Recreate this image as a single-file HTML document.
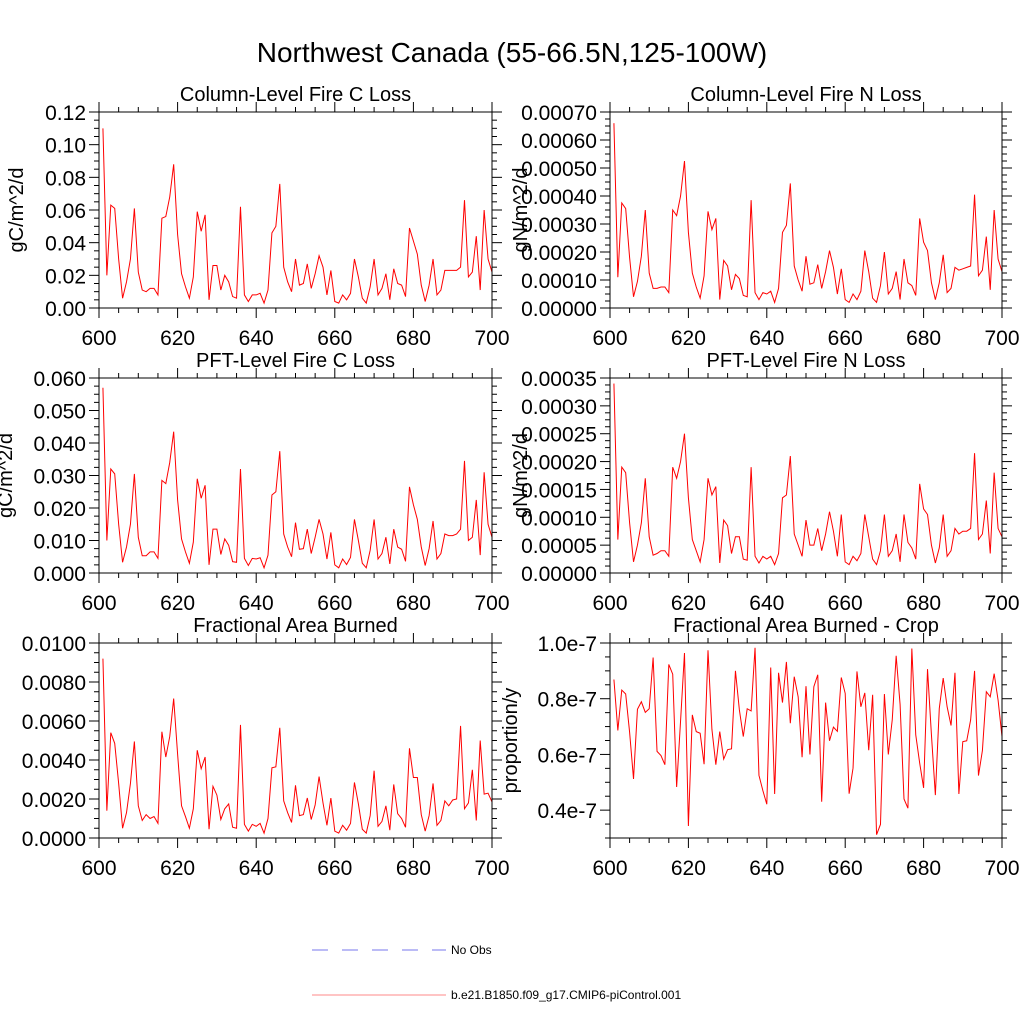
<!DOCTYPE html>
<html><head><meta charset="utf-8">
<style>
html,body{margin:0;padding:0;background:#fff;}
svg{display:block;font-family:"Liberation Sans",sans-serif;}
</style></head>
<body>
<svg id="fig" width="1024" height="1024" viewBox="0 0 1024 1024" xmlns="http://www.w3.org/2000/svg">
<rect x="0" y="0" width="1024" height="1024" fill="#fff"/>
<text x="512" y="62" font-size="28" text-anchor="middle">Northwest Canada (55-66.5N,125-100W)</text>
<g>
<line x1="312" y1="950" x2="446" y2="950" stroke="#7777ee" stroke-width="1" stroke-dasharray="16,14"/>
<text x="451" y="954" font-size="12">No Obs</text>
<line x1="312" y1="995" x2="446" y2="995" stroke="#ff8888" stroke-width="1"/>
<text x="451" y="999" font-size="12">b.e21.B1850.f09_g17.CMIP6-piControl.001</text>
</g>
</svg>
<script>
const years = [];
for (let i = 601; i <= 700; i++) years.push(i);
const xTicks = [600,620,640,660,680,700];

const colC = [0.110,0.020,0.063,0.061,0.030,0.006,0.016,0.030,0.061,0.022,
0.011,0.010,0.012,0.012,0.008,0.055,0.056,0.068,0.088,0.045,
0.021,0.013,0.006,0.019,0.059,0.047,0.057,0.005,0.026,0.026,
0.011,0.020,0.016,0.007,0.006,0.062,0.008,0.004,0.008,0.008,
0.009,0.003,0.011,0.046,0.050,0.076,0.025,0.016,0.010,0.030,
0.014,0.015,0.027,0.012,0.021,0.032,0.025,0.008,0.023,0.004,
0.003,0.008,0.005,0.009,0.030,0.019,0.006,0.003,0.013,0.030,
0.008,0.012,0.021,0.005,0.024,0.015,0.014,0.007,0.049,0.041,
0.033,0.014,0.004,0.014,0.030,0.008,0.011,0.023,0.023,0.023,
0.023,0.025,0.066,0.019,0.022,0.044,0.011,0.060,0.030,0.022];

const colN_e4 = [6.6,1.1,3.75,3.55,1.8,0.4,0.95,1.85,3.5,1.25,
0.7,0.7,0.75,0.75,0.55,3.5,3.3,4.0,5.25,2.7,
1.25,0.75,0.35,1.15,3.45,2.8,3.2,0.3,1.7,1.5,
0.65,1.2,1.05,0.45,0.4,3.85,0.55,0.3,0.55,0.5,
0.6,0.2,0.7,2.7,2.95,4.45,1.5,1.0,0.6,1.85,
0.85,0.9,1.55,0.7,1.3,2.05,1.45,0.5,1.4,0.3,
0.2,0.5,0.3,0.6,2.05,1.3,0.35,0.2,0.8,2.0,
0.5,0.7,1.3,0.3,1.75,0.9,0.8,0.45,3.2,2.35,
2.05,0.9,0.3,0.9,1.9,0.55,0.7,1.45,1.35,1.4,
1.45,1.5,4.05,1.15,1.35,2.55,0.65,3.5,1.75,1.3];

const pftC_e3 = [57,10,32,30.5,15,3.3,8,15,30.5,11,
5.3,5.3,6.5,6.5,4.5,28.5,27.5,34,43.5,22.5,
10.5,6.5,3,9.5,29,23,27,2.5,13.5,13.5,
5.7,10.5,8.5,3.5,3.3,32,4.5,2.3,4.5,4.3,
4.7,1.6,5.5,24,25,37.5,12,8,5,15.5,
7.3,7.5,13.5,6,11,16.5,12,4.3,12.5,2.5,
1.6,4.3,2.6,4.8,16.5,10,3,1.6,7,16.5,
4.3,6,11,2.8,13.5,8,7.3,3.6,26.5,21,
16.5,8,2.3,7.5,16,4.3,6,12,11.5,11.5,
12,13.5,34.5,10,11,22.5,5.5,31,15,11];

const pftN_e5 = [34,6,19,18,9,2,5,9,17,6.5,
3.2,3.5,4,4,3,19,17,20,25,13.5,
6,4,2,6,17,14,15.5,1.8,9.5,8.5,
3.5,6.5,6.5,2.5,2.3,19,3,1.8,3,2.5,
3,1.5,3.5,13.5,14,21,7,5,3,9.5,
5,5,8,4,7,11,7.5,3,10.5,2,
1.5,3,2.2,3.5,10.5,6.5,2.5,1.5,4,10.5,
3,4,7,2,10.5,5.5,4.5,2.5,16,11.5,
10.5,5,1.8,4.5,10.5,3,4,8,7,7.5,
7.5,8,21.5,6,7,13,3.5,18,8,6.5];

const fab_e3 = [9.2,1.4,5.4,4.85,2.8,0.5,1.3,2.8,4.95,1.65,
0.9,1.2,1.0,1.1,0.75,5.45,4.15,5.2,7.15,4.3,
1.65,1.1,0.5,1.5,4.5,3.55,4.15,0.45,2.65,2.2,
0.95,1.5,1.75,0.55,0.5,5.8,0.7,0.35,0.7,0.6,
0.75,0.25,1.0,3.6,3.65,5.65,1.9,1.3,0.8,2.7,
1.15,1.2,2.05,0.95,1.7,3.15,1.8,0.65,2.05,0.35,
0.25,0.65,0.4,0.75,2.85,1.75,0.45,0.25,1.15,3.45,
0.6,0.85,1.65,0.4,2.75,1.25,1.0,0.55,4.6,3.1,
3.1,1.2,0.35,1.15,2.8,0.65,0.9,1.9,1.65,1.95,
2.0,5.75,1.5,1.8,3.5,0.9,5.0,2.25,2.3,1.85];

const crop_e7 = [0.869,0.686,0.831,0.817,0.68,0.512,0.762,0.789,0.751,0.764,
0.948,0.611,0.596,0.563,0.923,0.888,0.483,0.72,0.964,0.343,
0.742,0.682,0.676,0.565,0.974,0.69,0.563,0.682,0.583,0.617,
0.62,0.90,0.76,0.664,0.764,0.756,0.983,0.525,0.47,0.421,
0.912,0.458,0.893,0.786,0.932,0.712,0.879,0.807,0.59,0.845,
0.60,0.843,0.886,0.43,0.786,0.649,0.698,0.683,0.876,0.819,
0.459,0.551,0.898,0.771,0.821,0.615,0.814,0.312,0.349,0.817,
0.60,0.724,0.954,0.78,0.44,0.407,0.98,0.67,0.569,0.48,
0.906,0.67,0.454,0.765,0.874,0.771,0.704,0.893,0.458,0.646,
0.649,0.724,0.90,0.524,0.614,0.825,0.807,0.89,0.795,0.664];

const tlColC = ["0.00","0.02","0.04","0.06","0.08","0.10","0.12"];
const tvColC = [0,0.02,0.04,0.06,0.08,0.10,0.12];
const tlColN = ["0.00000","0.00010","0.00020","0.00030","0.00040","0.00050","0.00060","0.00070"];
const tvColN = [0,1,2,3,4,5,6,7];
const tlPftC = ["0.000","0.010","0.020","0.030","0.040","0.050","0.060"];
const tvPftC = [0,10,20,30,40,50,60];
const tlPftN = ["0.00000","0.00005","0.00010","0.00015","0.00020","0.00025","0.00030","0.00035"];
const tvPftN = [0,5,10,15,20,25,30,35];
const tlFab = ["0.0000","0.0020","0.0040","0.0060","0.0080","0.0100"];
const tvFab = [0,2,4,6,8,10];
const tlCrop = ["0.4e-7","0.6e-7","0.8e-7","1.0e-7"];
const tvCrop = [0.4,0.6,0.8,1.0];

const NS = "http://www.w3.org/2000/svg";
const svg = document.getElementById('fig');
function mk(tag, attrs, parent) {
  const e = document.createElementNS(NS, tag);
  for (const k in attrs) e.setAttribute(k, attrs[k]);
  parent.appendChild(e);
  return e;
}

function panel(p) {
  const g = mk('g', {}, svg);
  
  
  const xs = v => p.x0 + (v - 600) / 100 * (p.x1 - p.x0);
  const ys = v => p.y1 - (v - p.ymin) / (p.ymax - p.ymin) * (p.y1 - p.y0);
  for (let v = 600; v <= 700; v += 5) {
    const major = v % 20 === 0;
    const L = major ? 10 : 5;
    const t1 = mk('line', {x1: xs(v), x2: xs(v), y1: p.y1, y2: p.y1 + L, stroke: '#000', 'stroke-width': 1}, g);
    
    
    const t2 = mk('line', {x1: xs(v), x2: xs(v), y1: p.y0, y2: p.y0 - L, stroke: '#000', 'stroke-width': 1}, g);
    
    
  }
  xTicks.forEach(v => {
    const t = mk('text', {x: xs(v), y: p.y1 + 37, 'font-size': 21, 'text-anchor': 'middle'}, g);
    t.textContent = v;
    
    
  });
  const step = (p.tv[1] - p.tv[0]) / 4;
  for (let v = p.tv[0] - 4 * step; v <= p.ymax + 1e-9; v += step) {
    if (v < p.ymin - 1e-9) continue;
    const k = Math.round((v - p.tv[0]) / step);
    const major = k % 4 === 0;
    const L = major ? 10 : 5;
    const y = ys(v);
    const a = mk('line', {x1: p.x0 - L, x2: p.x0, y1: y, y2: y, stroke: '#000', 'stroke-width': 1}, g);
    
    
    const b = mk('line', {x1: p.x1, x2: p.x1 + L, y1: y, y2: y, stroke: '#000', 'stroke-width': 1}, g);
    
    
  }
  p.tv.forEach((v, i) => {
    const t = mk('text', {x: p.x0 - 13, y: ys(v) + 8, 'font-size': 21, 'text-anchor': 'end'}, g);
    t.textContent = p.tl[i];
    
    
  });
  let d = '';
  p.data.forEach((v, i) => { d += (i ? 'L' : 'M') + xs(years[i]).toFixed(2) + ',' + ys(v).toFixed(2); });
  const path = mk('path', {d: d, fill: 'none', stroke: '#ff0000', 'stroke-width': 1}, g);
  
  
  const box = mk('rect', {x: p.x0, y: p.y0, width: p.x1 - p.x0, height: p.y1 - p.y0, fill: 'none', stroke: '#000', 'stroke-width': 1}, g);
  
  
  const tt = mk('text', {x: (p.x0 + p.x1) / 2, y: p.y0 - 11, 'font-size': 20, 'text-anchor': 'middle'}, g);
  tt.textContent = p.title;
  
  
  const cy = (p.y0 + p.y1) / 2;
  const yl = mk('text', {x: p.ylx, y: cy, 'font-size': 20, 'text-anchor': 'middle', transform: 'rotate(-90 ' + p.ylx + ' ' + cy + ')'}, g);
  yl.textContent = p.ylabel;
  
  
}

const L0 = 99, L1 = 492, R0 = 610, R1 = 1002;
panel({name: 'column-fire-c-loss-panel', title: 'Column-Level Fire C Loss', ylabel: 'gC/m^2/d', x0: L0, x1: L1, y0: 112, y1: 308, ymin: 0, ymax: 0.12, data: colC, tv: tvColC, tl: tlColC, ylx: 23});
panel({name: 'column-fire-n-loss-panel', title: 'Column-Level Fire N Loss', ylabel: 'gN/m^2/d', x0: R0, x1: R1, y0: 112, y1: 308, ymin: 0, ymax: 7, data: colN_e4, tv: tvColN, tl: tlColN, ylx: 527});
panel({name: 'pft-fire-c-loss-panel', title: 'PFT-Level Fire C Loss', ylabel: 'gC/m^2/d', x0: L0, x1: L1, y0: 378, y1: 573, ymin: 0, ymax: 60, data: pftC_e3, tv: tvPftC, tl: tlPftC, ylx: 12});
panel({name: 'pft-fire-n-loss-panel', title: 'PFT-Level Fire N Loss', ylabel: 'gN/m^2/d', x0: R0, x1: R1, y0: 378, y1: 573, ymin: 0, ymax: 35, data: pftN_e5, tv: tvPftN, tl: tlPftN, ylx: 527});
panel({name: 'fractional-area-burned-panel', title: 'Fractional Area Burned', ylabel: 'proportion/y', x0: L0, x1: L1, y0: 643, y1: 838, ymin: 0, ymax: 10, data: fab_e3, tv: tvFab, tl: tlFab, ylx: -4});
panel({name: 'fractional-area-burned-crop-panel', title: 'Fractional Area Burned - Crop', ylabel: 'proportion/y', x0: R0, x1: R1, y0: 643, y1: 838, ymin: 0.3, ymax: 1.0, data: crop_e7, tv: tvCrop, tl: tlCrop, ylx: 517});
</script>
</body></html>
